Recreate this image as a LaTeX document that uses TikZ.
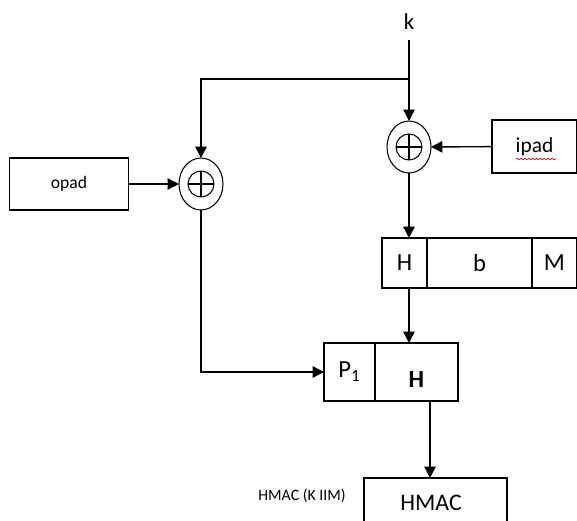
\documentclass[tikz,border=0pt]{standalone}
\usepackage{fontspec}
\setmainfont{Carlito}
\usetikzlibrary{shapes.geometric, arrows.meta, positioning, calc, decorations.pathmorphing}

\begin{document}
\begin{tikzpicture}[x=0.02cm, y=-0.02cm,
    box/.style={draw, line width=0.8pt, outer sep=0pt, inner sep=0pt},
    xorop/.style={ellipse, draw, line width=0.6pt, outer sep=0pt, inner sep=0pt,
        minimum width=0.88cm, minimum height=1.04cm,
        path picture={
            \draw[line width=0.6pt] (path picture bounding box.center) circle (0.26cm);
            \draw[line width=0.6pt] ($(path picture bounding box.center)+(-0.26cm,0)$) -- ++(0.52cm,0);
            \draw[line width=0.6pt] ($(path picture bounding box.center)+(0,-0.26cm)$) -- ++(0,0.52cm);
        }},
    flow/.style={line width=0.8pt, -{Triangle[length=6.5pt, width=6.5pt]}},
    wire/.style={line width=0.8pt}]
    % page frame
    \useasboundingbox (0,0) rectangle (577,520);
    \clip (0,0) rectangle (577,520);

    % key input
    \node (k) at (409,22) {\fontsize{13}{15}\selectfont k};
    \coordinate (ktop) at (409,40);
    \coordinate (split) at (409,79);

    % XOR operators
    \node[xorop] (xr) at (409,147) {};
    \node[xorop] (xl) at (201,184) {};

    % pads
    \node[box, minimum width=2.38cm, minimum height=1.04cm] (opad) at (69,184) {\fontsize{10}{12}\selectfont opad\hspace{0.36cm}};
    \node[box, minimum width=1.7cm, minimum height=1.06cm] (ipad) at (534.5,146.5) {\fontsize{12.2}{14}\selectfont ipad};
    \draw[red, line width=0.4pt, decorate, decoration={snake, amplitude=0.45pt, segment length=2.2pt}] (516,159) -- (556,159);

    % inner hash block
    \node[box, minimum width=0.9cm, minimum height=1.0cm] (hh) at (404.5,263) {\fontsize{14}{16}\selectfont H};
    \node[box, minimum width=2.1cm, minimum height=1.0cm] (hb) at (479.5,263) {\fontsize{14}{16}\selectfont b};
    \node[box, minimum width=0.9cm, minimum height=1.0cm] (hm) at (554.5,263) {\fontsize{14}{16}\selectfont M};

    % outer hash block
    \node[box, minimum width=1.02cm, minimum height=1.16cm] (p1) at (349.5,372) {\fontsize{14}{16}\selectfont P\textsubscript{1}};
    \node[box, minimum width=1.66cm, minimum height=1.16cm] (ph) at (416.5,372) {};
    \node (phtext) at (416.5,380) {\fontsize{14}{16}\selectfont\bfseries H};

    % result
    \node[box, minimum width=2.86cm, minimum height=1.2cm] (hmac) at (435.5,508) {};
    \node (hmactext) at (431,503) {\fontsize{13.5}{16}\selectfont HMAC};
    \node (hlabel) at (302,496) {\fontsize{9}{11}\selectfont HMAC (K IIM)};

    % connectors
    \draw[flow] (ktop) -- (xr);
    \draw[flow] (split) -| (xl);
    \draw[flow] (ipad) -- (xr);
    \draw[flow] (opad) -- (xl);
    \draw[flow] (xr) -- (xr |- hh.north);
    \draw[flow] (xr |- hh.south) -- (xr |- ph.north);
    \draw[flow] (xl.south) |- (p1.west);
    \draw[flow] ([xshift=0.27cm]ph.south) -- ([xshift=0.27cm]ph.south |- hmac.north);
\end{tikzpicture}
\end{document}
